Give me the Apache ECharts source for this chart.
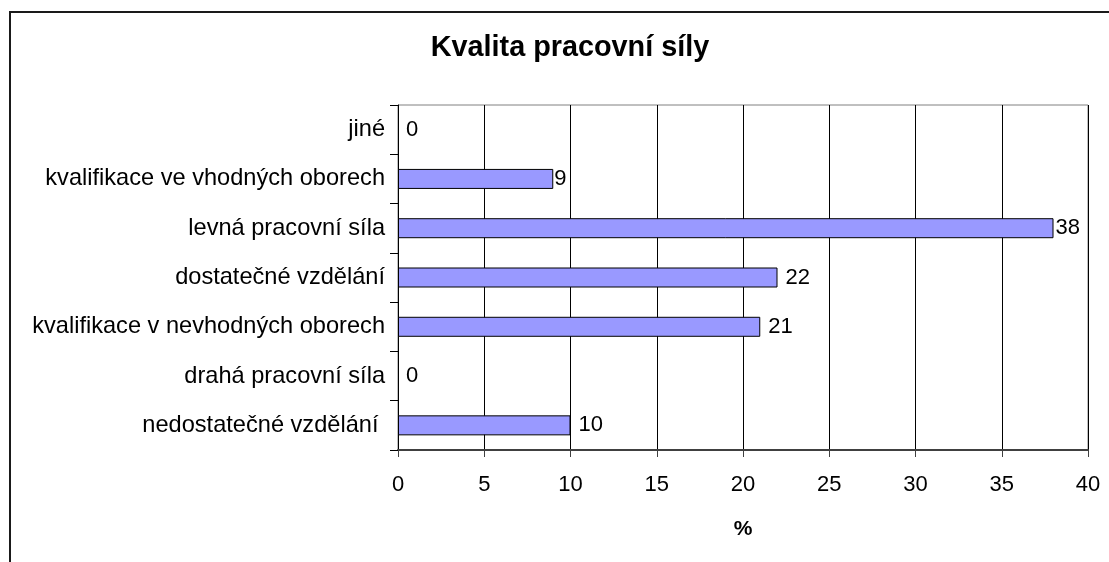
<!DOCTYPE html>
<html>
<head>
<meta charset="utf-8">
<script src="https://cdn.jsdelivr.net/npm/echarts@6/dist/echarts.min.js"></script>
<style>html,body{margin:0;padding:0;background:#fff;}#c{width:1109px;height:562px;}</style>
</head>
<body>
<div id="c"></div>
<script>
const titleText = "Kvalita pracovní síly";
const axisName = "%";
const categories = [
  "jiné",
  "kvalifikace ve vhodných oborech",
  "levná pracovní síla",
  "dostatečné vzdělání",
  "kvalifikace v nevhodných oborech",
  "drahá pracovní síla",
  "nedostatečné vzdělání "
];
const values = [0, 9, 38, 22, 21, 0, 10];
const xMin = 0, xMax = 40, xStep = 5;

const font = "'Liberation Sans', Arial, sans-serif";
const chart = echarts.init(document.getElementById('c'), null, {renderer: 'canvas'});
const seriesData = values.map((v) => {
  const item = { value: v };
  if (v === 0) item.itemStyle = { borderWidth: 0 };
  else if (v < 10) item.label = { distance: 1 };
  else if (v >= 30) item.label = { distance: 2 };
  return item;
});
chart.setOption({
  animation: false,
  backgroundColor: '#fff',
  title: {
    text: titleText,
    left: 565, top: 29, textAlign: 'center',
    textStyle: { fontFamily: font, fontSize: 28.8, fontWeight: 'bold', color: '#000' }
  },
  grid: { left: 398, right: 21, top: 105, bottom: 112, containLabel: false,
          show: true, borderColor: '#808080', borderWidth: 1 },
  xAxis: {
    type: 'value', min: xMin, max: xMax, interval: xStep,
    name: axisName, nameLocation: 'middle', nameGap: 69,
    nameTextStyle: { fontFamily: font, fontSize: 21, fontWeight: 'bold', color: '#000' },
    axisLine: { show: true, lineStyle: { color: '#404040', width: 2 } },
    axisTick: { show: true, length: 7, lineStyle: { color: '#404040' } },
    axisLabel: { margin: 24, fontFamily: font, fontSize: 22, color: '#000' },
    splitLine: { show: true, lineStyle: { color: '#000', width: 1 } }
  },
  yAxis: {
    type: 'category', data: categories, inverse: true,
    axisLine: { show: true, lineStyle: { color: '#000', width: 1 } },
    axisTick: { show: true, length: 8, lineStyle: { color: '#000' } },
    axisLabel: { margin: 13, fontFamily: font, fontSize: 23.6, color: '#000' },
    splitLine: { show: false }
  },
  series: [{
    type: 'bar', data: seriesData, barWidth: 20,
    itemStyle: { color: '#9999FF', borderColor: '#000', borderWidth: 1 },
    label: { show: true, position: 'right', distance: 8,
             fontFamily: font, fontSize: 22, color: '#000' }
  }],
  graphic: [{
    type: 'polyline', silent: true,
    shape: { points: [[10, 562], [10, 12], [1109, 12]] },
    style: { stroke: '#1a1a1a', lineWidth: 2, fill: null }
  }]
});
</script>
</body>
</html>
